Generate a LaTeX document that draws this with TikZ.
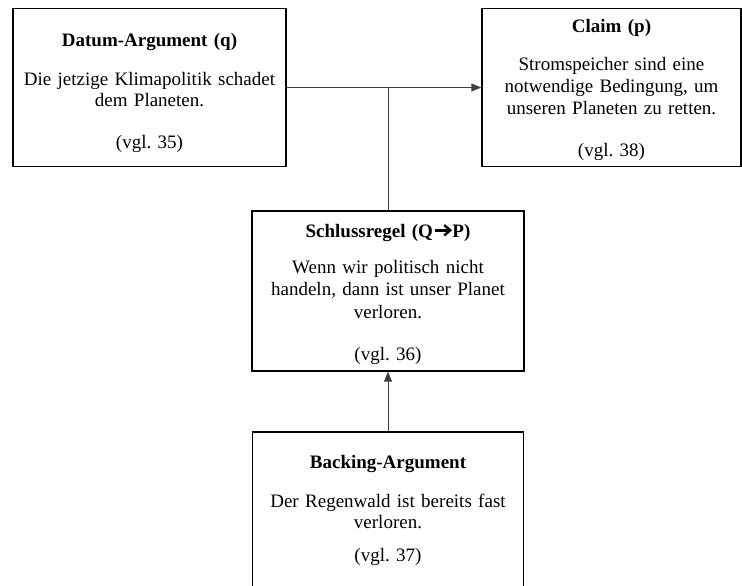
\documentclass[tikz,border=0pt]{standalone}
\usepackage{fontspec}
\setmainfont{Liberation Serif}
\usetikzlibrary{arrows.meta}
\frenchspacing

% thick chevron arrow used inside the warrant title
\newsavebox{\qparrow}
\sbox{\qparrow}{\tikz[baseline=-6.7pt,x=1pt,y=1pt]{%
  \draw[line width=2.4pt] (0,0) -- (14.5,0);
  \draw[line width=2.4pt,miter limit=4] (9,5.2) -- (15,0) -- (9,-5.2);}}

\begin{document}
\begin{tikzpicture}[x=1pt,y=-1pt,
  font=\fontsize{19}{21.7}\selectfont,
  argbox/.style={draw=black,line width=1.3pt,rectangle,inner sep=0pt},
  argtext/.style={anchor=base,inner sep=0pt,align=center},
  link/.style={draw=black!75,line width=0.9pt},
  tip/.style={-{Triangle[length=10pt,width=8pt]}}]

\useasboundingbox (0,0) rectangle (742,586);

% boxes
\node[argbox,minimum width=273pt,minimum height=158pt] (datum)    at (149.5,87.5) {};
\node[argbox,minimum width=259pt,minimum height=158pt] (claim)    at (611.5,87.5) {};
\node[argbox,minimum width=272pt,minimum height=160pt] (warrant)  at (388,291)   {};
\node[argbox,minimum width=271pt,minimum height=170pt] (backing)  at (388,517)   {};

% box contents
\node[argtext,text width=265pt] (datum-text) at (149.5,47)
  {\textbf{Datum-Argument (q)}\\[16.5pt]
   Die jetzige Klimapolitik schadet\\
   dem Planeten.\\[19.5pt]
   (vgl. 35)};
\node[argtext,text width=250pt] (claim-text) at (611.5,32.5)
  {\textbf{Claim (p)}\\[16.8pt]
   Stromspeicher sind eine\\
   notwendige Bedingung, um\\
   unseren Planeten zu retten.\\[20pt]
   (vgl. 38)};
\node[argtext,text width=262pt] (warrant-text) at (388,237)
  {\textbf{Schlussregel (Q\hspace{1pt}\usebox{\qparrow}\hspace{1pt}P)}\\[14.5pt]
   Wenn wir politisch nicht\\[0.8pt]
   handeln, dann ist unser Planet\\[0.8pt]
   verloren.\\[21pt]
   (vgl. 36)};
\node[argtext,text width=262pt] (backing-text) at (388,468)
  {\textbf{Backing-Argument}\\[17.5pt]
   Der Regenwald ist bereits fast\\
   verloren.\\[10.5pt]
   (vgl. 37)};

% connectors
\coordinate (junction) at (warrant.north |- datum.east);
\draw[link,tip] (datum.east) -- (claim.west);
\draw[link] (warrant.north) -- (junction);
\draw[link,tip] (backing.north) -- (warrant.south);
\end{tikzpicture}
\end{document}
